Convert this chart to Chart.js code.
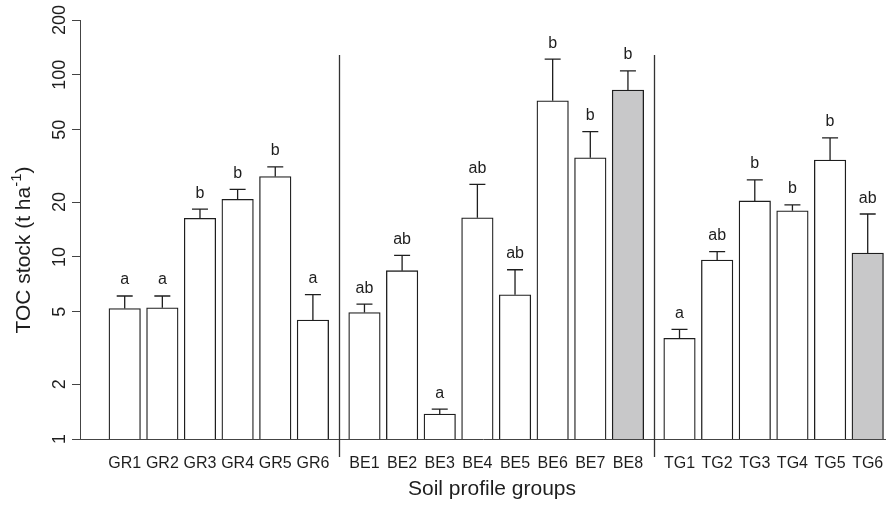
<!DOCTYPE html>
<html>
<head>
<meta charset="utf-8">
<script src="https://cdn.jsdelivr.net/npm/chart.js@4.4.0/dist/chart.umd.min.js"></script>
<style>
  body { margin: 0; background: #fff; }
  #wrap { width: 886px; height: 505px; position: relative; }
</style>
</head>
<body>
<div id="wrap"><canvas id="tocChart"></canvas></div>
<script>
// soil profile groups
const grLabels = ['GR1', 'GR2', 'GR3', 'GR4', 'GR5', 'GR6'];
const beLabels = ['BE1', 'BE2', 'BE3', 'BE4', 'BE5', 'BE6', 'BE7', 'BE8'];
const tgLabels = ['TG1', 'TG2', 'TG3', 'TG4', 'TG5', 'TG6'];

const grMeans = [5.2, 5.25, 16.3, 20.7, 27.6, 4.5];
const beMeans = [4.95, 8.4, 1.37, 16.4, 6.2, 72, 35, 82.5];
const tgMeans = [3.57, 9.6, 20.3, 17.9, 34, 10.5];

// upper end of the error bars
const grUpper = [6.1, 6.1, 18.3, 23.5, 31.2, 6.2];
const beUpper = [5.5, 10.2, 1.46, 25, 8.5, 122, 48.7, 105];
const tgUpper = [4.0, 10.7, 26.5, 19.3, 45, 17.2];

const grLetters = ['a', 'a', 'b', 'b', 'b', 'a'];
const beLetters = ['ab', 'ab', 'a', 'ab', 'ab', 'b', 'b', 'b'];
const tgLetters = ['a', 'ab', 'b', 'b', 'b', 'ab'];

const grShaded = [false, false, false, false, false, false];
const beShaded = [false, false, false, false, false, false, false, true];
const tgShaded = [false, false, false, false, false, true];

const yTicks = [1, 2, 5, 10, 20, 50, 100, 200];

const fontFam = '"Liberation Sans", Arial, Helvetica, sans-serif';
const groupGap = 0.37;

const labels = grLabels.concat(beLabels, tgLabels);
const means = grMeans.concat(beMeans, tgMeans);
const upper = grUpper.concat(beUpper, tgUpper);
const letters = grLetters.concat(beLetters, tgLetters);
const shaded = grShaded.concat(beShaded, tgShaded);

// x position of every bar, with a little extra space between the groups
const groupSizes = [grLabels.length, beLabels.length, tgLabels.length];
const positions = [];
const groupEnds = [];
let n = 0;
groupSizes.forEach((size, g) => {
    for (let i = 0; i < size; i++) {
        positions.push(n + g * groupGap);
        n++;
    }
    groupEnds.push(positions.length - 1);
});

const extrasPlugin = {
    id: 'extras',
    afterDatasetsDraw(chart) {
        const ctx = chart.ctx;
        const xs = chart.scales.x;
        const ys = chart.scales.y;
        const area = chart.chartArea;
        ctx.save();

        // error bars and letters
        ctx.strokeStyle = '#1e1e1e';
        ctx.lineWidth = 1.3;
        ctx.fillStyle = '#1e1e1e';
        ctx.font = '16px ' + fontFam;
        ctx.textAlign = 'center';
        ctx.textBaseline = 'alphabetic';
        for (let i = 0; i < means.length; i++) {
            const x = xs.getPixelForValue(positions[i]);
            const yBar = ys.getPixelForValue(means[i]);
            const yErr = ys.getPixelForValue(upper[i]);
            ctx.beginPath();
            ctx.moveTo(x, yBar);
            ctx.lineTo(x, yErr);
            ctx.moveTo(x - 8, yErr);
            ctx.lineTo(x + 8, yErr);
            ctx.stroke();
            ctx.fillText(letters[i], x, yErr - 11.5);
        }

        // separators between the groups
        ctx.strokeStyle = '#333';
        ctx.lineWidth = 1.3;
        for (let g = 0; g < groupEnds.length - 1; g++) {
            const k = groupEnds[g];
            const x = Math.round(xs.getPixelForValue((positions[k] + positions[k + 1]) / 2)) + 0.5;
            ctx.beginPath();
            ctx.moveTo(x, area.top + 35);
            ctx.lineTo(x, area.bottom + 18);
            ctx.stroke();
        }

        // axis titles
        ctx.fillStyle = '#1e1e1e';
        ctx.font = '21px ' + fontFam;
        ctx.textAlign = 'center';
        ctx.textBaseline = 'middle';
        ctx.fillText('Soil profile groups', 492, 489);

        ctx.translate(24, 250);
        ctx.rotate(-Math.PI / 2);
        const main = 'TOC stock (t ha';
        const sup = '-1';
        const close = ')';
        ctx.font = '21px ' + fontFam;
        const wMain = ctx.measureText(main).width;
        const wClose = ctx.measureText(close).width;
        ctx.font = '15px ' + fontFam;
        const wSup = ctx.measureText(sup).width;
        let x0 = -(wMain + wSup + wClose) / 2;
        ctx.textAlign = 'left';
        ctx.font = '21px ' + fontFam;
        ctx.fillText(main, x0, 0);
        ctx.font = '15px ' + fontFam;
        ctx.fillText(sup, x0 + wMain, -7);
        ctx.font = '21px ' + fontFam;
        ctx.fillText(close, x0 + wMain + wSup, 0);
        ctx.restore();
    }
};

function drawChart() {
    const ctx = document.getElementById('tocChart').getContext('2d');
    new Chart(ctx, {
        type: 'bar',
        data: {
            datasets: [{
                data: means.map((v, i) => ({ x: positions[i], y: v })),
                backgroundColor: shaded.map(s => s ? '#c8c8c9' : '#ffffff'),
                borderColor: '#1e1e1e',
                borderWidth: 1.3,
                borderSkipped: 'bottom',
                barThickness: 31.5
            }]
        },
        options: {
            responsive: true,
            maintainAspectRatio: false,
            animation: false,
            layout: { padding: { top: 20, right: 0, left: 0, bottom: 0 } },
            plugins: {
                legend: { display: false },
                tooltip: { enabled: false },
                title: { display: false }
            },
            scales: {
                x: {
                    type: 'linear',
                    offset: false,
                    min: -1.1876,
                    max: 20.226,
                    afterFit: s => {
                        s.height = 66;
                        s.paddingLeft = 0;
                        s.paddingRight = 0;
                    },
                    afterBuildTicks: s => { s.ticks = positions.map(p => ({ value: p })); },
                    grid: { display: false, drawTicks: false, offset: false },
                    border: { display: true, color: '#444', width: 1 },
                    ticks: {
                        autoSkip: false,
                        maxRotation: 0,
                        minRotation: 0,
                        padding: 15,
                        color: '#1e1e1e',
                        font: { family: fontFam, size: 16 },
                        callback: (value, index) => labels[index]
                    }
                },
                y: {
                    type: 'logarithmic',
                    min: 1,
                    max: 200,
                    afterFit: s => { s.width = 80; },
                    afterBuildTicks: s => { s.ticks = yTicks.map(v => ({ value: v })); },
                    grid: {
                        display: true,
                        drawOnChartArea: false,
                        drawTicks: true,
                        tickLength: 8,
                        color: '#444',
                        lineWidth: 1
                    },
                    border: { display: true, color: '#444', width: 1 },
                    ticks: {
                        minRotation: 90,
                        maxRotation: 90,
                        crossAlign: 'center',
                        padding: -3,
                        color: '#1e1e1e',
                        font: { family: fontFam, size: 18 },
                        callback: v => String(v)
                    }
                }
            }
        },
        plugins: [extrasPlugin]
    });
}

drawChart();
</script>
</body>
</html>
